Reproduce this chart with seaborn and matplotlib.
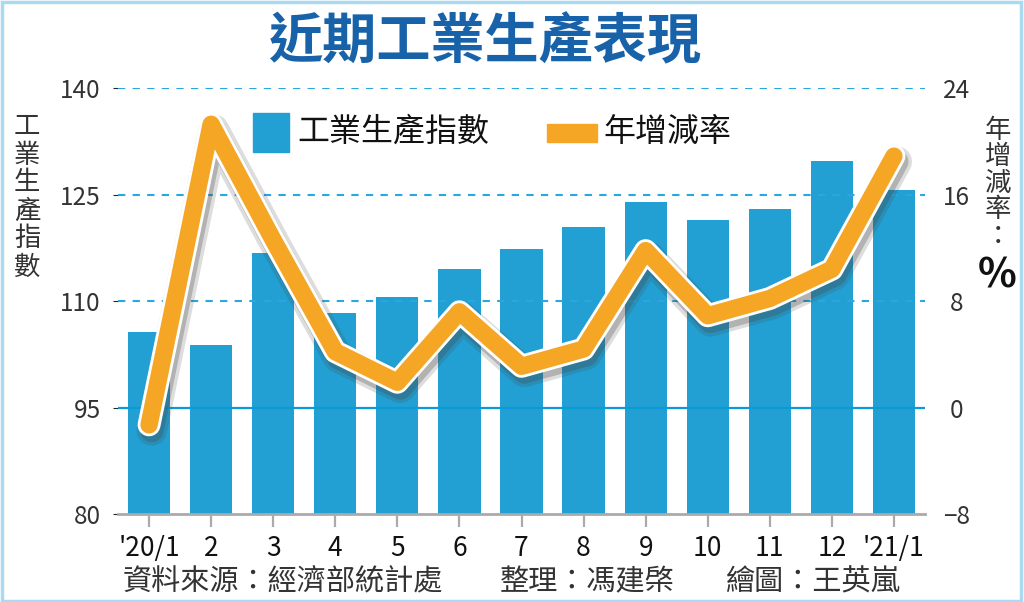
import numpy as np
import pandas as pd
import matplotlib
matplotlib.use("Agg")
import matplotlib.pyplot as plt
import matplotlib.patches as mpatches
import matplotlib.patheffects as pe
import seaborn as sns

# 資料
months = ["'20/1", "2", "3", "4", "5", "6", "7", "8", "9", "10", "11", "12", "'21/1"]
ip_index = [105.7, 103.8, 116.8, 108.3, 110.6, 114.5, 117.3, 120.4, 124.0, 121.5, 123.0, 129.8, 125.6]
yoy_rate = [-1.3, 21.3, 12.6, 4.2, 1.9, 7.2, 3.1, 4.4, 11.8, 6.9, 8.2, 10.4, 18.9]

left_ticks = [80, 95, 110, 125, 140]
right_ticks = [-8, 0, 8, 16, 24]

BLUE = "#22a0d3"
GRID = "#2aa7de"
ORANGE = "#f6a625"
TITLE_BLUE = "#1762a8"

sns.set_style("white")
plt.rcParams['font.family'] = ['Noto Sans CJK TC', 'DejaVu Sans']

df = pd.DataFrame({"month": months, "index": ip_index, "yoy": yoy_rate,
                   "pos": np.arange(len(months))})

W, H = 1024, 602
fig = plt.figure(figsize=(W / 100, H / 100), dpi=100)
ax = fig.add_axes([118 / W, 1 - 514 / H, (925 - 118) / W, (514 - 88.3) / H])

# 長條圖
sns.barplot(data=df, x="month", y="index", order=months, color=BLUE,
            saturation=1, width=0.68, linewidth=0, ax=ax, zorder=1)
ax.set_ylim(80, 140)
ax.set_xlim(-0.5, len(months) - 0.5)
ax.set_yticks(left_ticks)
ax.set_xlabel("")
ax.set_ylabel("")

# 格線
for v in left_ticks[2:]:
    ax.axhline(v, color=GRID, lw=1.5, ls=(0, (3.5, 3.5)), zorder=2)
ax.axhline(95, color="#0a9bd7", lw=1.6, zorder=2)

for s in ["top", "left", "right"]:
    ax.spines[s].set_visible(False)
ax.spines["bottom"].set_color("#aaaaaa")
ax.spines["bottom"].set_linewidth(2)
ax.spines["bottom"].set_zorder(3)

ax.tick_params(axis="x", bottom=True, length=9, width=1.6, color="#aaaaaa",
               pad=6, labelsize=19, labelcolor="#111111")
for t in ax.get_xticklabels():
    t.set_fontweight("medium")
ax.tick_params(axis="y", left=False, pad=9, labelsize=17.5, labelcolor="#333333")

# 年增減率 (右軸)
ax2 = ax.twinx()
sns.lineplot(data=df, x="pos", y="yoy", sort=False, color=ORANGE, lw=12.5, ax=ax2)
line = ax2.lines[0]
line.set_solid_joinstyle("round")
line.set_solid_capstyle("round")
line.set_path_effects([
    pe.SimpleLineShadow(offset=(2, -4), shadow_color="#444444", alpha=0.18, linewidth=22),
    pe.SimpleLineShadow(offset=(2, -4), shadow_color="#444444", alpha=0.28, linewidth=17),
    pe.Stroke(linewidth=16.5, foreground="white"),
    pe.Normal(),
])
ax2.set_ylim(-8, 24)
ax2.set_yticks(right_ticks)
ax2.set_ylabel("")
ax2.set_xlabel("")
for s in ax2.spines.values():
    s.set_visible(False)
ax2.tick_params(axis="y", right=False, pad=19, labelsize=17.5, labelcolor="#333333")
for t in ax2.get_yticklabels():
    t.set_horizontalalignment("center")
ax.set_xlim(-0.5, len(months) - 0.5)

# 標題
fig.text(485 / W, 1 - 43 / H, "近期工業生產表現", ha="center", va="center",
         fontsize=39, fontweight="bold", color=TITLE_BLUE)

# 圖例
fig.patches.append(mpatches.Rectangle((253 / W, 1 - 152 / H), 36 / W, 39 / H,
                                      transform=fig.transFigure, color=BLUE))
fig.text(297 / W, 1 - 132 / H, "工業生產指數", ha="left", va="center",
         fontsize=23, color="#111111")
fig.patches.append(mpatches.Rectangle((547 / W, 1 - 142 / H), 50 / W, 18 / H,
                                      transform=fig.transFigure, color=ORANGE))
fig.text(603 / W, 1 - 132 / H, "年增減率", ha="left", va="center",
         fontsize=23, color="#111111")

# 左右軸標題 (直書)
for i, ch in enumerate("工業生產指數"):
    fig.text(27 / W, 1 - (127 + 28 * i) / H, ch, ha="center", va="center",
             fontsize=19, color="#333333")
for i, ch in enumerate("年增減率："):
    fig.text(998 / W, 1 - (130 + 26.5 * i) / H, ch, ha="center", va="center",
             fontsize=19, color="#333333")
fig.text(997 / W, 1 - 276 / H, "%", ha="center", va="center",
         fontsize=29, fontweight="bold", color="#111111")

# 資料來源
fig.text(123 / W, 1 - 582 / H, "資料來源：經濟部統計處", ha="left", va="center",
         fontsize=21, color="#333333")
fig.text(500 / W, 1 - 582 / H, "整理：馮建棨", ha="left", va="center",
         fontsize=21, color="#333333")
fig.text(725 / W, 1 - 582 / H, "繪圖：王英嵐", ha="left", va="center",
         fontsize=21, color="#333333")

# 外框
fig.patches.append(mpatches.Rectangle((1.5 / W, 1.5 / H), 1 - 5 / W, 1 - 3.5 / H,
                                      transform=fig.transFigure, fill=False,
                                      edgecolor="#a9daf2", lw=2.5))

fig.savefig("out.png", dpi=100)
